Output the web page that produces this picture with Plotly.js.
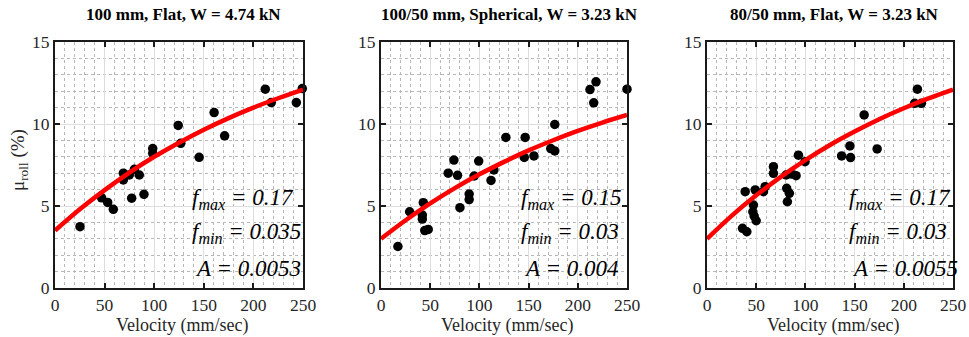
<!DOCTYPE html>
<html>
<head>
<meta charset="utf-8">
<script src="https://cdn.plot.ly/plotly-3.0.1.min.js"></script>
<style>html,body{margin:0;padding:0;background:#fff;}#chart{width:969px;height:337px;}</style>
</head>
<body>
<div id="chart"></div>
<script>
// ---- Data ----
const panelTitles = ["100 mm, Flat, W = 4.74 kN", "100/50 mm, Spherical, W = 3.23 kN", "80/50 mm, Flat, W = 3.23 kN"];
const xTickVals = [0, 50, 100, 150, 200, 250];
const yTickVals = [0, 5, 10, 15];
const xLabel = "Velocity (mm/sec)";
const yLabel = "μ<sub>roll</sub> (%)";

// Panel 1 measured points
const p1V = [25.2, 47, 53.1, 58.8, 68.9, 68.9, 74.9, 80, 85, 77.3, 89.7, 98.5, 98.5, 124.2, 126.8, 145.3, 160.4, 171, 212, 218, 243.3, 249.3];
const p1Mu = [3.74, 5.5, 5.22, 4.8, 7.0, 6.59, 6.89, 7.24, 6.89, 5.48, 5.71, 8.5, 8.21, 9.91, 8.82, 7.97, 10.7, 9.28, 12.12, 11.31, 11.31, 12.16];
// Panel 2 measured points
const p2V = [17.2, 29.1, 43, 42, 42, 44.5, 48, 68.3, 74.1, 77.8, 80.2, 89.6, 89.6, 94.7, 99.3, 111.8, 114.7, 126.9, 146.5, 145.6, 155.4, 172.5, 176.6, 176.6, 212.4, 218.5, 216.2, 250];
const p2Mu = [2.53, 4.65, 5.2, 4.45, 4.2, 3.5, 3.57, 7.0, 7.8, 6.87, 4.9, 5.73, 5.39, 6.83, 7.74, 6.56, 7.2, 9.18, 9.18, 7.96, 8.05, 8.5, 8.36, 9.97, 12.1, 12.57, 11.29, 12.12];
// Panel 3 measured points
const p3V = [36.1, 40.5, 38.8, 49, 47.2, 46.6, 47.9, 50, 57.4, 59.1, 67.5, 67.5, 81, 83.7, 81.7, 80.4, 86, 90.5, 92.9, 99.6, 136.8, 145.2, 145.9, 159.7, 172.9, 213.8, 211, 217.9];
const p3Mu = [3.64, 3.43, 5.87, 5.98, 5.06, 4.65, 4.39, 4.1, 5.87, 6.18, 7.4, 6.99, 6.08, 5.77, 5.26, 6.89, 6.95, 6.85, 8.1, 7.7, 8.05, 8.66, 7.95, 10.55, 8.48, 12.12, 11.26, 11.26];

// Fitted curves
const curveV = [0, 25, 50, 75, 100, 125, 150, 175, 200, 225, 250];
const c1Mu = [3.5, 4.8, 5.97, 7.04, 8.0, 8.86, 9.65, 10.36, 11.0, 11.57, 12.1];
const c2Mu = [3.0, 4.13, 5.16, 6.09, 6.93, 7.69, 8.39, 9.01, 9.58, 10.09, 10.55];
const c3Mu = [3.0, 4.4, 5.65, 6.78, 7.8, 8.72, 9.54, 10.29, 10.96, 11.56, 12.1];

const fmaxTxt = ["0.17", "0.15", "0.17"];
const fminTxt = ["0.035", "0.03", "0.03"];
const aTxt = ["0.0053", "0.004", "0.0055"];

// ---- Layout helpers ----
const W = 969, H = 337;
const px = v => v / W;
const py = v => 1 - v / H;
const FONT = 'Liberation Serif';
const axL = [55, 381, 707], axR = [303, 627, 953];
const axT = 42, axB = 288;
const titleX = [183, 509, 834];
const textX = [190, 519, 847];

const pts = [[p1V, p1Mu], [p2V, p2Mu], [p3V, p3Mu]];
const curves = [c1Mu, c2Mu, c3Mu];

const data = [];
const layout = {
  width: W, height: H,
  margin: {l: 0, r: 0, t: 0, b: 0},
  paper_bgcolor: '#fff', plot_bgcolor: '#fff',
  showlegend: false,
  font: {family: FONT, size: 17, color: '#262626'},
  annotations: []
};

for (let i = 0; i < 3; i++) {
  const xa = i === 0 ? 'x' : 'x' + (i + 1);
  const ya = i === 0 ? 'y' : 'y' + (i + 1);
  data.push({
    type: 'scatter', mode: 'markers', x: pts[i][0], y: pts[i][1],
    xaxis: xa, yaxis: ya, cliponaxis: false,
    marker: {color: '#000', size: 9.5, line: {width: 0}}
  });
  data.push({
    type: 'scatter', mode: 'lines', x: curveV, y: curves[i],
    xaxis: xa, yaxis: ya,
    line: {color: '#ff0000', width: 4.5, shape: 'spline'}
  });
  const common = {
    showline: true, linewidth: 2, linecolor: '#1a1a1a', mirror: 'ticks',
    ticks: 'inside', ticklen: 5, tickwidth: 1.5, tickcolor: '#1a1a1a',
    showgrid: true, gridcolor: '#dedede', gridwidth: 1.2,
    zeroline: false, automargin: false,
    tickfont: {family: FONT, size: 17.5, color: '#262626'}
  };
  layout['xaxis' + (i === 0 ? '' : i + 1)] = Object.assign({}, common, {
    domain: [px(axL[i]), px(axR[i])], anchor: ya,
    range: [0, 250], tickvals: xTickVals, ticktext: xTickVals.map(String),
    minor: {dtick: 10, showgrid: true, gridcolor: '#b8b8b8', griddash: 'dot', gridwidth: 1, ticks: ''}
  });
  layout['yaxis' + (i === 0 ? '' : i + 1)] = Object.assign({}, common, {
    domain: [py(axB), py(axT)], anchor: xa,
    range: [0, 15], tickvals: yTickVals, ticktext: yTickVals.map(String),
    minor: {dtick: 1, showgrid: true, gridcolor: '#b8b8b8', griddash: 'dot', gridwidth: 1, ticks: ''}
  });
  // panel title
  layout.annotations.push({
    xref: 'paper', yref: 'paper', x: px(titleX[i]), y: py(15), xanchor: 'center', yanchor: 'middle',
    text: '<b>' + panelTitles[i] + '</b>', showarrow: false,
    font: {family: FONT, size: 17, color: '#000'}
  });
  // x label
  layout.annotations.push({
    xref: 'paper', yref: 'paper', x: px((axL[i] + axR[i]) / 2 + 3), y: py(325), xanchor: 'center', yanchor: 'middle',
    text: xLabel, showarrow: false,
    font: {family: FONT, size: 18, color: '#262626'}
  });
  // parameter texts
  const lines = [
    ['<i>f<sub>max</sub> = ' + fmaxTxt[i] + '</i>', 199, 0],
    ['<i>f<sub>min</sub> = ' + fminTxt[i] + '</i>', 233, 0],
    ['<i>A = ' + aTxt[i] + '</i>', 268, 3]
  ];
  lines.forEach(l => {
    layout.annotations.push({
      xref: 'paper', yref: 'paper', x: px(textX[i] + l[2]), y: py(l[1]), xanchor: 'left', yanchor: 'middle',
      text: l[0], showarrow: false,
      font: {family: FONT, size: 23, color: '#000'}
    });
  });
}
// y label
layout.annotations.push({
  xref: 'paper', yref: 'paper', x: px(19), y: py(160), xanchor: 'center', yanchor: 'middle',
  text: yLabel, showarrow: false, textangle: -90,
  font: {family: FONT, size: 19, color: '#262626'}
});

Plotly.newPlot('chart', data, layout, {displayModeBar: false});
</script>
</body>
</html>
